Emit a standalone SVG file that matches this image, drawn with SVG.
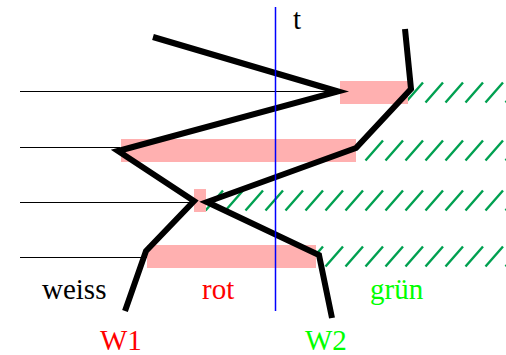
<svg xmlns="http://www.w3.org/2000/svg" width="506" height="355" viewBox="0 0 506 355">
  <style>
    .lvl { stroke: #000; stroke-width: 1; fill: none; }
    .red-zone { fill: #ffb0b0; }
    .green-zone { fill: url(#hatch); }
    .path { stroke: #000; stroke-width: 6; fill: none; stroke-linejoin: miter; stroke-linecap: butt; }
    .lbl { font-family: "Liberation Serif", "Times New Roman", serif; font-size: 29px; }
  </style>
  <defs>
    <!-- one diagonal dash per 20px tile, bar-high -->
    <pattern id="hatch" patternUnits="userSpaceOnUse" width="20" height="23" x="4" y="0">
      <line x1="1.5" y1="21.5" x2="19" y2="1.5" stroke="#00a050" stroke-width="2.4"/>
    </pattern>
  </defs>

  <!-- time levels -->
  <g id="levels">
    <line class="lvl" x1="20" y1="91.5" x2="338" y2="91.5"/>
    <line class="lvl" x1="20" y1="147.5" x2="120" y2="147.5"/>
    <line class="lvl" x1="20" y1="202.5" x2="195" y2="202.5"/>
    <line class="lvl" x1="20" y1="257.5" x2="147" y2="257.5"/>
  </g>

  <!-- red (rot) phases -->
  <g id="red-phases">
    <rect class="red-zone" x="340" y="81" width="68" height="23"/>
    <rect class="red-zone" x="121" y="139" width="235" height="23"/>
    <rect class="red-zone" x="194" y="189" width="12" height="23"/>
    <rect class="red-zone" x="147" y="245" width="169" height="23"/>
  </g>

  <!-- green (grün) phases, each bar in its own offset frame so the dashes line up with it -->
  <g id="green-phases">
    <g transform="translate(0,81)"><rect class="green-zone" x="408" y="0" width="98" height="23"/></g>
    <g transform="translate(0,139)"><rect class="green-zone" x="356" y="0" width="150" height="23"/></g>
    <g transform="translate(0,189)"><rect class="green-zone" x="206" y="0" width="300" height="23"/></g>
    <g transform="translate(0,245)"><rect class="green-zone" x="316" y="0" width="190" height="23"/></g>
  </g>

  <!-- world lines -->
  <g id="connectors">
    <polyline id="w1-line" class="path" points="153,37 338,91.5 118,151 194,201 146,251 125,311"/>
    <polyline id="w2-line" class="path" points="405,29 411,89 356,148 207,202 319,255 332,318"/>
  </g>

  <!-- current time -->
  <g id="time">
    <line x1="275.5" y1="7" x2="275.5" y2="311" stroke="#0000ff" stroke-width="1.5"/>
    <text class="lbl" x="293" y="29" fill="#000">t</text>
  </g>

  <g id="labels">
    <text class="lbl" x="42" y="299" fill="#000">weiss</text>
    <text class="lbl" x="202" y="299" fill="#ff0000">rot</text>
    <text class="lbl" x="370" y="299" fill="#00ff00">grün</text>
    <text class="lbl" x="100" y="350" fill="#ff0000">W1</text>
    <text class="lbl" x="305" y="350" fill="#00ff00">W2</text>
  </g>
</svg>
